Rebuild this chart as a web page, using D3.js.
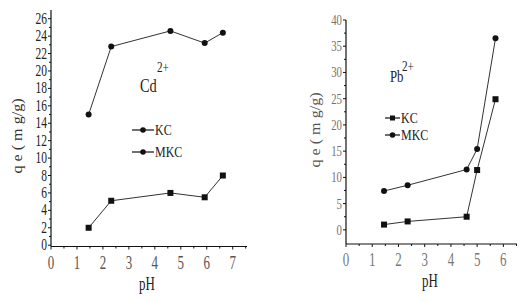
<!DOCTYPE html>
<html><head><meta charset="utf-8">
<script src="https://cdn.jsdelivr.net/npm/d3@7"></script>
<style>body{margin:0;background:#fff}svg{display:block}</style>
</head><body>
<script>
// ---- data ----
const cdPH = [1.45, 2.32, 4.6, 5.92, 6.62];
const cdUpper = [15.0, 22.8, 24.6, 23.2, 24.4];
const cdLower = [2.0, 5.1, 6.0, 5.5, 8.0];
const cdXTicks = [0,1,2,3,4,5,6,7];
const cdYTicks = [0,2,4,6,8,10,12,14,16,18,20,22,24,26];

const pbPH = [1.45, 2.35, 4.6, 5.0, 5.7];
const pbKC = [1.0, 1.6, 2.5, 11.4, 24.9];
const pbMKC = [7.4, 8.5, 11.5, 15.4, 36.5];
const pbXTicks = [0,1,2,3,4,5,6];
const pbYTicks = [0,5,10,15,20,25,30,35,40];

const legendLabels = ["KC", "MKC"];

const W = 527, H = 301;
const svg = d3.select("body").append("svg").attr("width", W).attr("height", H);
const FONT = "Liberation Serif, Times New Roman, serif";

function txt(g, x, y, s, size, anchor, color, sx) {
  sx = sx || 0.72;
  const t = g.append("text")
    .attr("transform", `translate(${x},${y}) scale(${sx},1)`)
    .attr("font-family", FONT).attr("font-size", size)
    .attr("text-anchor", anchor).attr("fill", color).text(s);
  return t;
}

function panel(opt) {
  const g = svg.append("g");
  const x = d3.scaleLinear().domain(opt.xd).range(opt.xr);
  const y = d3.scaleLinear().domain(opt.yd).range(opt.yr);
  // axes lines
  g.append("line").attr("x1", opt.xr[0]).attr("x2", opt.xr[1]).attr("y1", opt.yr[0]).attr("y2", opt.yr[0]).attr("stroke", "#111").attr("stroke-width", 1.2);
  g.append("line").attr("x1", opt.xr[0]).attr("x2", opt.xr[0]).attr("y1", opt.yr[0]).attr("y2", opt.yr[1]).attr("stroke", "#111").attr("stroke-width", 1.2);
  // x ticks
  opt.xTicks.forEach(v => {
    g.append("line").attr("x1", x(v)).attr("x2", x(v)).attr("y1", opt.yr[0]).attr("y2", opt.yr[0] + 3).attr("stroke", "#111");
    txt(g, x(v), opt.yr[0] + 22, v, 18, "middle", opt.xcol);
  });
  opt.xTicks.forEach(v => {
    const m = v + 0.5;
    if (m < opt.xd[1]) g.append("line").attr("x1", x(m)).attr("x2", x(m)).attr("y1", opt.yr[0]).attr("y2", opt.yr[0] + 2).attr("stroke", "#111");
  });
  // y ticks
  opt.yTicks.forEach(v => {
    g.append("line").attr("x1", opt.xr[0] - 3).attr("x2", opt.xr[0]).attr("y1", y(v)).attr("y2", y(v)).attr("stroke", "#111");
    txt(g, opt.xr[0] - 4, y(v) + 5, v, opt.yfs, "end", opt.ycol);
    const m = v + opt.ystep / 2;
    if (m < opt.yd[1]) g.append("line").attr("x1", opt.xr[0] - 2).attr("x2", opt.xr[0]).attr("y1", y(m)).attr("y2", y(m)).attr("stroke", "#111");
  });
  // axis titles
  txt(g, opt.pHx, opt.yr[0] + 43, "pH", 18, "middle", "#222");
  g.append("text")
    .attr("transform", `translate(${opt.ylx},${opt.yly}) rotate(-90) scale(0.95,0.8)`)
    .attr("font-family", FONT).attr("font-size", 17).attr("text-anchor", "middle")
    .attr("fill", opt.ylcol).text("q e ( m g/g)");
  // series
  const line = d3.line().x(d => x(d[0])).y(d => y(d[1]));
  opt.series.forEach(s => {
    const pts = opt.px.map((p, i) => [p, s.v[i]]);
    g.append("path").attr("d", line(pts)).attr("fill", "none").attr("stroke", "#333").attr("stroke-width", 1);
    pts.forEach(p => {
      if (s.m === "circle") g.append("circle").attr("cx", x(p[0])).attr("cy", y(p[1])).attr("r", 3).attr("fill", "#111");
      else g.append("rect").attr("x", x(p[0]) - 3).attr("y", y(p[1]) - 3).attr("width", 6).attr("height", 6).attr("fill", "#111");
    });
  });
  // legend
  opt.legend.forEach((l, i) => {
    const ly = opt.lg[1] + i * opt.lg[2];
    g.append("line").attr("x1", opt.lg[0]).attr("x2", opt.lg[0] + opt.lg[3]).attr("y1", ly).attr("y2", ly).attr("stroke", "#111").attr("stroke-width", 1.2);
    const cx = opt.lg[0] + opt.lg[3] / 2;
    if (l.m === "circle") g.append("circle").attr("cx", cx).attr("cy", ly).attr("r", 2.8).attr("fill", "#111");
    else g.append("rect").attr("x", cx - 2.5).attr("y", ly - 2.5).attr("width", 5).attr("height", 5).attr("fill", "#111");
    txt(g, opt.lg[0] + opt.lg[3] + 1, ly + 5, l.t, 15, "start", "#222", 0.8);
  });
  // ion label
  txt(g, opt.ion[0], opt.ion[1], opt.ion[2], opt.ion[4], "start", "#222", 0.8);
  txt(g, opt.ion[0] + opt.ion[3], opt.ion[1] - opt.ion[5], "2+", 14, "start", "#222", 0.8);
  return g;
}

panel({
  xd: [0, 7.55], xr: [51, 247],
  yd: [-0.15, 27], yr: [246.5, 10],
  xTicks: cdXTicks, yTicks: cdYTicks, ystep: 2, yfs: 16,
  xcol: "#555", ycol: "#222",
  pHx: 147, ylx: 22, yly: 136, ylcol: "#333",
  px: cdPH,
  series: [{v: cdUpper, m: "circle"}, {v: cdLower, m: "rect"}],
  legend: [{t: legendLabels[0], m: "circle"}, {t: legendLabels[1], m: "circle"}],
  lg: [132, 130, 22, 22],
  ion: [140, 92, "Cd", 17, 18, 20]
});

panel({
  xd: [0, 6.52], xr: [346, 517],
  yd: [-2.7, 40], yr: [244, 20],
  xTicks: pbXTicks, yTicks: pbYTicks, ystep: 5, yfs: 15,
  xcol: "#777", ycol: "#7a6f66",
  pHx: 430, ylx: 320, yly: 130, ylcol: "#555",
  px: pbPH,
  series: [{v: pbMKC, m: "circle"}, {v: pbKC, m: "rect"}],
  legend: [{t: legendLabels[0], m: "rect"}, {t: legendLabels[1], m: "circle"}],
  lg: [385, 118, 17, 15],
  ion: [390, 82, "Pb", 12, 16, 11]
});
</script>
</body></html>
